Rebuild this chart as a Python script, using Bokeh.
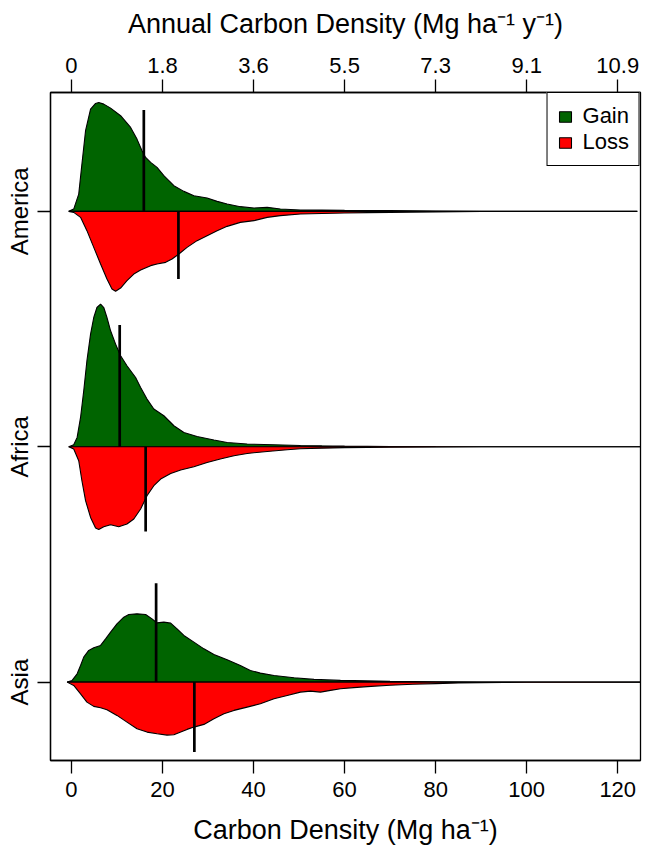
from bokeh.plotting import figure
from bokeh.models import Range1d, LinearAxis, FixedTicker, Legend, LegendItem
from bokeh.embed import file_html
from bokeh.resources import INLINE

# ---------------- data ----------------
regions = ["Asia", "Africa", "America"]          # baseline 1, 2, 3
region_pos = [1, 2, 3]

bottom_ticks = [0, 20, 40, 60, 80, 100, 120]
top_labels = ["0", "1.8", "3.6", "5.5", "7.3", "9.1", "10.9"]

# density heights (relative units) along carbon density (Mg/ha)
america_gain_x = [-0.6, 0.5, 1.6, 2.3, 3.1, 4.2, 5.3, 6.0, 7.1, 8.6, 10.8, 13.0, 14.4, 15.5, 16.3, 17.4, 18.8,
                  20.3, 22.5, 24.7, 26.9, 29.8, 32.0, 34.2, 37.1, 40.1, 43.0, 45.9, 50.3, 55, 60, 70, 80, 90, 100, 124.3]
america_gain_d = [0, 2.3, 17.3, 47.3, 80.7, 102.3, 108, 109, 107.3, 103.3, 95.7, 84, 72.3, 60.7, 54, 49, 44,
                  35.7, 25.7, 20, 15.7, 13.3, 10, 7.3, 4.7, 3.3, 4, 2.3, 1.3, 1.2, 1.0, 0.7, 0.4, 0.15, 0.05, 0]
america_loss_x = [-0.6, 0.5, 2.0, 3.4, 4.9, 6.4, 7.8, 8.9, 9.7, 10.8, 12.2, 13.7, 15.2, 17.4, 18.8, 20.7, 22.1,
                  23.6, 25.4, 27.6, 29.8, 32.0, 34.2, 37.1, 40.1, 43.0, 45.9, 50.3, 55, 60, 65, 70, 80, 90, 100, 124.3]
america_loss_d = [0, 1, 6, 19.3, 36, 52.7, 67.7, 77.7, 80, 76.7, 69.3, 62.7, 58.7, 54.3, 52.7, 51, 47.7,
                  42.7, 36, 29.3, 24.3, 19.3, 15, 11, 9.3, 6, 4.3, 2.7, 2.2, 1.7, 1.3, 1.0, 0.5, 0.2, 0.05, 0]

africa_gain_x = [-0.6, 0.5, 1.25, 2.0, 2.7, 3.4, 4.2, 4.9, 5.6, 6.4, 7.1, 7.8, 8.6, 9.7, 10.8, 12.2, 14.1, 15.2,
                 16.6, 18.1, 20.3, 22.5, 24.7, 27.6, 31.3, 34.2, 38.6, 44.5, 50.3, 55, 60, 70, 80, 90, 125]
africa_gain_d = [0, 2, 9.3, 29.3, 56, 86, 112.7, 129.3, 139.3, 142.7, 139.3, 129.3, 116, 102.7, 91, 81, 69.3, 59.3,
                 47.7, 37.7, 31, 21, 14.3, 10.3, 6.7, 4.3, 2.7, 2, 1.3, 0.9, 0.6, 0.3, 0.15, 0.05, 0]
africa_loss_x = [-0.6, 0.5, 1.6, 2.3, 3.1, 4.2, 5.3, 6.0, 7.1, 8.6, 10.4, 12.2, 13.7, 15.2, 16.6, 18.1, 19.6, 21.8,
                 24.0, 26.9, 29.8, 32.7, 35.7, 38.6, 43.0, 47.4, 50.3, 55, 60, 65, 70, 80, 90, 100, 125]
africa_loss_d = [0, 2.3, 14, 34, 54, 70.7, 81.3, 82.7, 80, 78, 80, 77.3, 72.3, 62.3, 49, 39, 32.3, 26.7,
                 23.3, 20, 15.7, 12.3, 9, 6.7, 4.7, 3, 2, 1.4, 1.0, 0.7, 0.4, 0.2, 0.08, 0.02, 0]

asia_gain_x = [-0.95, 0.15, 1.25, 2.0, 2.7, 3.8, 4.9, 6.4, 7.5, 8.6, 10.0, 11.5, 12.6, 14.4, 16.3, 17.7, 18.8, 20.3,
               21.8, 23.2, 24.7, 26.9, 29.1, 31.3, 34.2, 37.1, 39.3, 41.5, 44.5, 48.9, 53.3, 59.1, 65, 70, 80, 90, 100, 125]
asia_gain_d = [0, 1.7, 8.3, 16.7, 25, 31.7, 34.3, 36.7, 43.3, 50, 58.3, 65, 67.7, 68.3, 67.7, 63.3, 59.3, 60,
               59, 53.3, 46.7, 40, 33.3, 27.7, 22.3, 16.7, 11.7, 9, 6.7, 4.3, 2.7, 1.7, 1.2, 0.8, 0.4, 0.15, 0.05, 0]
asia_loss_x = [-0.95, 0.5, 2.0, 3.4, 4.9, 6.4, 7.8, 10.0, 12.2, 14.4, 16.6, 18.8, 21.0, 22.5, 24.0, 25.4, 26.9, 29.1,
               31.3, 33.5, 35.7, 38.6, 41.5, 44.5, 47.4, 50.3, 52.5, 54.7, 56.9, 59.1, 62, 65, 70, 75, 80, 85, 90, 95,
               100, 110, 125]
asia_loss_d = [0, 3.3, 11.7, 20, 24.3, 25.7, 27.7, 33.3, 40, 46.7, 50, 51.7, 53, 52.7, 50, 47.3, 45, 42.3,
               36.7, 31.7, 28.3, 25, 21.7, 16.7, 13.3, 10, 9, 10, 8.3, 6.7, 5.5, 4.5, 3.2, 2.2, 1.5, 0.9, 0.5, 0.25,
               0.1, 0.02, 0]

# median markers: position and marker length (same relative units)
gain_median_x = [18.6, 10.6, 15.9]     # Asia, Africa, America
gain_median_h = [99, 121.7, 101.4]
loss_median_x = [27.0, 16.3, 23.5]
loss_median_h = [70, 84.7, 67.6]

dens_scale = 1 / 235.5   # relative units -> y-axis units

gain_color = "#006400"
loss_color = "#FF0000"
FONT = "Liberation Sans"

# ---------------- figure ----------------
p = figure(width=647, height=853, x_range=Range1d(-4.6, 125.0), y_range=Range1d(0.667, 3.505),
           output_backend="svg", toolbar_location=None,
           min_border_left=50, min_border_right=7, min_border_top=92, min_border_bottom=93)
p.xgrid.visible = False
p.ygrid.visible = False
p.outline_line_color = "black"
p.outline_line_width = 1.3
p.outline_line_alpha = 1.0
p.background_fill_color = "white"

series = {
    "America": (3, america_gain_x, america_gain_d, america_loss_x, america_loss_d),
    "Africa": (2, africa_gain_x, africa_gain_d, africa_loss_x, africa_loss_d),
    "Asia": (1, asia_gain_x, asia_gain_d, asia_loss_x, asia_loss_d),
}
leg_r = {}
for name, (base, gx, gd, lx, ld) in series.items():
    rg = p.patch(gx, [base + d * dens_scale for d in gd], fill_color=gain_color,
                 line_color="black", line_width=1.1)
    rl = p.patch(lx, [base - d * dens_scale for d in ld], fill_color=loss_color,
                 line_color="black", line_width=1.1)
    if name == "America":
        leg_r["Gain"] = rg
        leg_r["Loss"] = rl

p.segment(x0=gain_median_x, y0=region_pos, x1=gain_median_x,
          y1=[b + h * dens_scale for b, h in zip(region_pos, gain_median_h)],
          line_color="black", line_width=2.7)
p.segment(x0=loss_median_x, y0=region_pos, x1=loss_median_x,
          y1=[b - h * dens_scale for b, h in zip(region_pos, loss_median_h)],
          line_color="black", line_width=2.7)

# ---------------- axes ----------------
def style_axis(ax, font_size):
    ax.axis_line_color = "black"
    ax.axis_line_width = 1.3
    ax.major_tick_line_color = "black"
    ax.major_tick_line_width = 1.3
    ax.major_tick_in = 0
    ax.major_tick_out = 13
    ax.minor_tick_line_color = None
    ax.major_label_text_font = FONT
    ax.major_label_text_font_size = font_size
    ax.major_label_text_color = "black"
    ax.axis_label_text_font = FONT
    ax.axis_label_text_font_size = "27px"
    ax.axis_label_text_font_style = "normal"
    ax.axis_label_text_color = "black"

xb = p.xaxis[0]
xb.ticker = FixedTicker(ticks=bottom_ticks)
xb.axis_label = "Carbon Density (Mg ha\u207b\u00b9)"
style_axis(xb, "22px")
xb.major_label_standoff = 8
xb.axis_label_standoff = 15

yl = p.yaxis[0]
yl.ticker = FixedTicker(ticks=region_pos)
yl.major_label_overrides = {pos: name for pos, name in zip(region_pos, regions)}
style_axis(yl, "24px")
yl.major_label_orientation = "vertical"
yl.major_label_standoff = 4

xt = LinearAxis(ticker=FixedTicker(ticks=bottom_ticks),
                major_label_overrides={t: l for t, l in zip(bottom_ticks, top_labels)},
                axis_label="Annual Carbon Density (Mg ha\u207b\u00b9 y\u207b\u00b9)")
style_axis(xt, "22px")
xt.major_label_standoff = 7
xt.axis_label_standoff = 16
p.add_layout(xt, "above")

# ---------------- legend ----------------
legend = Legend(items=[LegendItem(label="Gain", renderers=[leg_r["Gain"]]),
                       LegendItem(label="Loss", renderers=[leg_r["Loss"]])],
                location="top_right", margin=0, padding=10, spacing=0,
                glyph_width=15, glyph_height=13, label_standoff=10,
                label_text_font=FONT, label_text_font_size="22px", label_text_color="black",
                border_line_color="black", border_line_width=1.3, border_line_alpha=1.0,
                background_fill_color="white", background_fill_alpha=1.0)
p.add_layout(legend)

open("out.html", "w").write(file_html(p, INLINE))
